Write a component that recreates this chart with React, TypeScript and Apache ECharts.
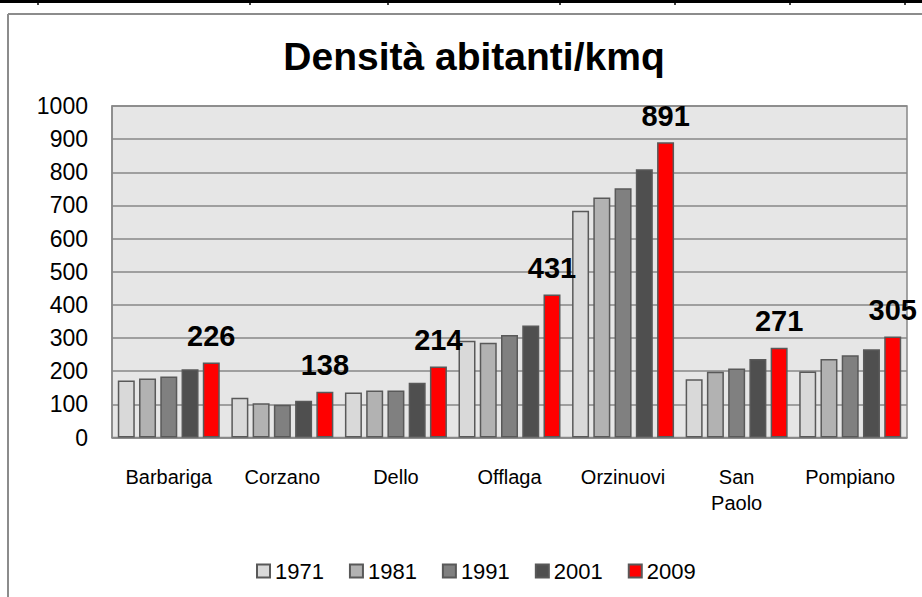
import React, { useEffect, useRef } from "react";
import * as echarts from "echarts";

const categories = ["Barbariga", "Corzano", "Dello", "Offlaga", "Orzinuovi", "San Paolo", "Pompiano"];
const years = ["1971", "1981", "1991", "2001", "2009"];
const values1971 = [172, 120, 136, 292, 684, 176, 199];
const values1981 = [178, 103, 142, 286, 724, 198, 237];
const values1991 = [184, 99, 142, 309, 752, 208, 248];
const values2001 = [206, 111, 165, 338, 809, 237, 266];
const values2009 = [226, 138, 214, 431, 891, 271, 305];
const yearColors = ["#d9d9d9", "#b2b2b2", "#808080", "#4f4f4f", "#ff0000"];
const yTicks = { min: 0, max: 1000, interval: 100 };
const topTicks = [38, 250, 388, 560, 675, 790, 905];

export default function App() {
  const ref = useRef<HTMLDivElement>(null);
  useEffect(() => {
    document.body.style.margin = "0";
    const chart = echarts.init(ref.current!, null, { renderer: "svg" });
    const seriesData = [values1971, values1981, values1991, values2001, values2009];
    const font = "'Liberation Sans', Arial, sans-serif";
    const graphics: any[] = [
      { type: "rect", shape: { x: 0, y: 0, width: 922, height: 3 }, style: { fill: "#000" }, silent: true },
      ...topTicks.map((x) => ({
        type: "line",
        shape: { x1: x, y1: 0, x2: x, y2: 5 },
        style: { stroke: "#000", lineWidth: 1.5 },
        silent: true,
      })),
      { type: "line", shape: { x1: 8, y1: 14, x2: 922, y2: 14 }, style: { stroke: "#8c8c8c", lineWidth: 2 }, silent: true },
      { type: "line", shape: { x1: 8, y1: 14, x2: 8, y2: 597 }, style: { stroke: "#8c8c8c", lineWidth: 2 }, silent: true },
    ];
    chart.setOption({
      animation: false,
      backgroundColor: "#ffffff",
      title: {
        text: "Densità abitanti/kmq",
        left: 469,
        textAlign: "center",
        top: 32,
        textStyle: { fontFamily: font, fontWeight: "bold", fontSize: 39, color: "#000" },
      },
      graphic: graphics,
      legend: {
        data: years,
        left: 251,
        top: 555,
        itemWidth: 13,
        itemHeight: 13,
        itemGap: 25,
        icon: "rect",
        textStyle: { fontFamily: font, fontSize: 22, color: "#000", padding: [0, 0, 0, 0] },
      },
      grid: {
        left: 112,
        right: 15,
        top: 106,
        bottom: 159.5,
        show: true,
        backgroundColor: "#e6e6e6",
        borderColor: "#888888",
        borderWidth: 1.5,
      },
      xAxis: {
        type: "category",
        data: categories,
        axisLine: { show: true, lineStyle: { color: "#888888", width: 1.5 } },
        axisTick: { show: false },
        axisLabel: {
          interval: 0,
          margin: 26,
          fontFamily: font,
          fontSize: 20,
          color: "#000",
          lineHeight: 26,
          formatter: (v: string) => v.replace(" ", "\n"),
        },
      },
      yAxis: {
        type: "value",
        min: yTicks.min,
        max: yTicks.max,
        interval: yTicks.interval,
        axisLine: { show: true, lineStyle: { color: "#888888", width: 1.5 } },
        axisTick: { show: false },
        splitLine: { lineStyle: { color: "#878787", width: 1.5 } },
        axisLabel: {
          fontFamily: font,
          fontSize: 23,
          color: "#000",
          margin: 24,
          formatter: (v: number) => String(v),
        },
      },
      series: years.map((y, i) => ({
        name: y,
        type: "bar",
        data: seriesData[i],
        barWidth: 17,
        barGap: "25%",
        itemStyle: { color: yearColors[i], borderColor: "#595959", borderWidth: 1.5 },
        label:
          i === 4
            ? {
                show: true,
                position: "top",
                distance: 12,
                fontFamily: font,
                fontWeight: "bold",
                fontSize: 29,
                color: "#000",
              }
            : { show: false },
      })),
    });
    return () => chart.dispose();
  }, []);
  return <div ref={ref} style={{ width: 922, height: 597 }} />;
}
